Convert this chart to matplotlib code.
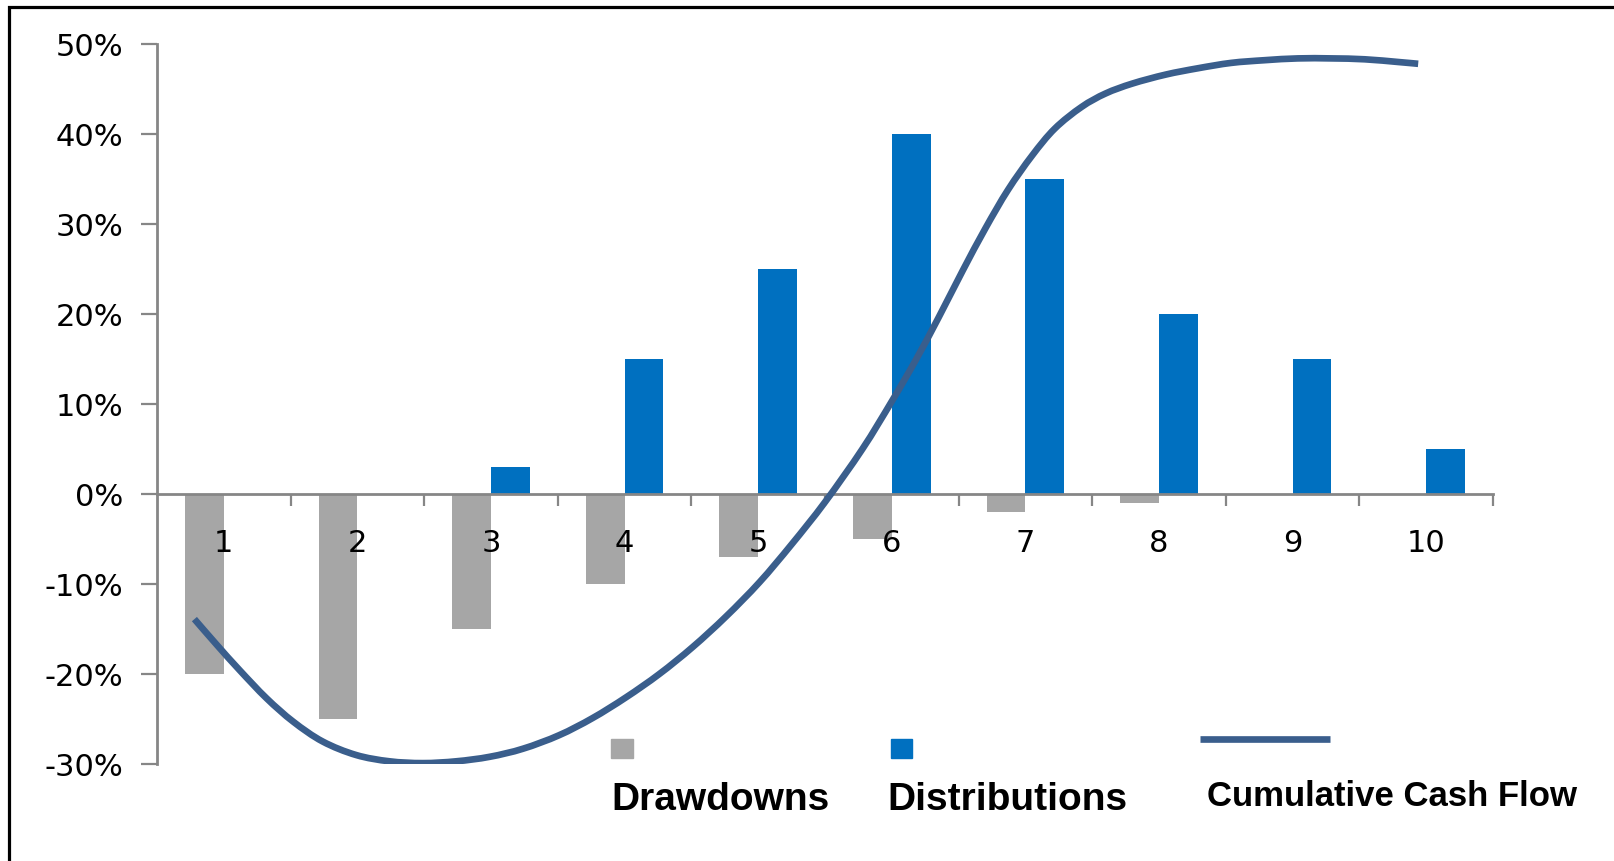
import numpy as np
import matplotlib.pyplot as plt
from matplotlib.lines import Line2D
from matplotlib.patches import Rectangle, PathPatch
from matplotlib.path import Path
from matplotlib.ticker import FuncFormatter, FixedLocator


years = [1, 2, 3, 4, 5, 6, 7, 8, 9, 10]
drawdowns = [-20, -25, -15, -10, -7, -5, -2, -1, 0, 0]
distributions = [0, 0, 3, 15, 25, 40, 35, 20, 15, 5]

# smoothed cumulative cash flow curve (x in year units)
cash_flow_x = [0.78, 0.95, 1.12, 1.32, 1.52, 1.74, 1.99, 2.24, 2.49, 2.74,
               2.99, 3.24, 3.51, 3.76, 4.01, 4.26, 4.51, 4.76, 5.01, 5.25,
               5.50, 5.78, 6.00, 6.18, 6.35, 6.53, 6.70, 6.87, 7.05, 7.22,
               7.42, 7.60, 7.80, 8.05, 8.29, 8.54, 8.79, 9.04, 9.29, 9.54,
               9.79, 9.94]
cash_flow_y = [-13.9, -16.8, -19.6, -22.7, -25.3, -27.5, -29.0, -29.7, -29.9, -29.7,
               -29.2, -28.3, -26.8, -24.9, -22.6, -20.0, -17.0, -13.6, -9.8, -5.6,
               -0.9, 5.0, 10.3, 14.9, 19.6, 24.8, 29.5, 33.8, 37.6, 40.6,
               43.0, 44.5, 45.6, 46.6, 47.3, 47.9, 48.2, 48.4, 48.4, 48.3,
               48.0, 47.8]

y_ticks = [-30, -20, -10, 0, 10, 20, 30, 40, 50]
legend_labels = ["Drawdowns", "Distributions", "Cumulative Cash Flow"]

GRAY = "#A6A6A6"
BLUE = "#0070C0"
LINE = "#3A5E8C"
AXIS = "#868686"


def smooth_path(xs, ys):
    """Excel-style smoothed line: bezier segments through the given points."""
    pts = np.column_stack([xs, ys])
    verts = [pts[0]]
    codes = [Path.MOVETO]
    n = len(pts)
    for i in range(n - 1):
        p0 = pts[max(i - 1, 0)]
        p1 = pts[i]
        p2 = pts[i + 1]
        p3 = pts[min(i + 2, n - 1)]
        verts += [p1 + (p2 - p0) / 6, p2 - (p3 - p1) / 6, p2]
        codes += [Path.CURVE4] * 3
    return Path(verts, codes)


W, H = 1614, 861
fig = plt.figure(figsize=(W / 100, H / 100), dpi=100)
ax = fig.add_axes([157 / W, 1 - 764 / H, (1493 - 157) / W, (764 - 44) / H])
ax.set_axisbelow(False)

x = np.array(years, dtype=float)
bw = 0.29
ax.bar(x - bw / 2, drawdowns, width=bw, color=GRAY, zorder=2)
ax.bar(x + bw / 2, distributions, width=bw, color=BLUE, zorder=2)
ax.add_patch(PathPatch(smooth_path(cash_flow_x, cash_flow_y), facecolor="none",
                       edgecolor=LINE, lw=4.8, capstyle="butt", zorder=4))

ax.set_xlim(0.5, 10.5)
ax.set_ylim(-30, 50)

for side in ["top", "right"]:
    ax.spines[side].set_visible(False)
ax.spines["bottom"].set_position(("data", 0))
for side in ["left", "bottom"]:
    ax.spines[side].set_color(AXIS)
    ax.spines[side].set_linewidth(2.0)
    ax.spines[side].set_zorder(3)

ax.set_yticks(y_ticks)
ax.yaxis.set_major_formatter(FuncFormatter(lambda v, p: "%d%%" % v))
ax.tick_params(axis="y", direction="out", length=11.5, width=1.6, color=AXIS,
               labelsize=22, pad=13, labelcolor="black")

ax.xaxis.set_major_locator(FixedLocator([v + 0.5 for v in years]))
ax.xaxis.set_minor_locator(FixedLocator(years))
ax.xaxis.set_major_formatter(FuncFormatter(lambda v, p: ""))
ax.xaxis.set_minor_formatter(FuncFormatter(lambda v, p: "%d" % round(v)))
ax.tick_params(axis="x", which="major", direction="out", length=8.6, width=1.6, color=AXIS)
ax.tick_params(axis="x", which="minor", length=0, labelsize=22, pad=25, labelcolor="black")

# legend laid out like the original: marks above, bold labels below
fig.add_artist(Rectangle((611 / W, 1 - 758 / H), 22 / W, 19 / H,
                         transform=fig.transFigure, color=GRAY))
fig.add_artist(Rectangle((891 / W, 1 - 758 / H), 21 / W, 19 / H,
                         transform=fig.transFigure, color=BLUE))
fig.add_artist(Line2D([1200 / W, 1330 / W], [1 - 739 / H, 1 - 739 / H],
                      transform=fig.transFigure, color=LINE, lw=4.8,
                      solid_capstyle="butt"))
text_kw = dict(family="Liberation Sans", weight="bold", color="black", va="center", ha="left")
fig.text(611 / W, 1 - 800 / H, legend_labels[0], fontsize=28, **text_kw)
fig.text(887 / W, 1 - 800 / H, legend_labels[1], fontsize=28, **text_kw)
fig.text(1207 / W, 1 - 797 / H, legend_labels[2], fontsize=25, **text_kw)

# black frame on the left and top edges
fig.add_artist(Line2D([8.5 / W, 8.5 / W, 1.0], [0.0, 1 - 6.5 / H, 1 - 6.5 / H],
                      transform=fig.transFigure, color="black", lw=2.3,
                      solid_joinstyle="miter"))

fig.savefig("out.png", dpi=100, facecolor="white")
